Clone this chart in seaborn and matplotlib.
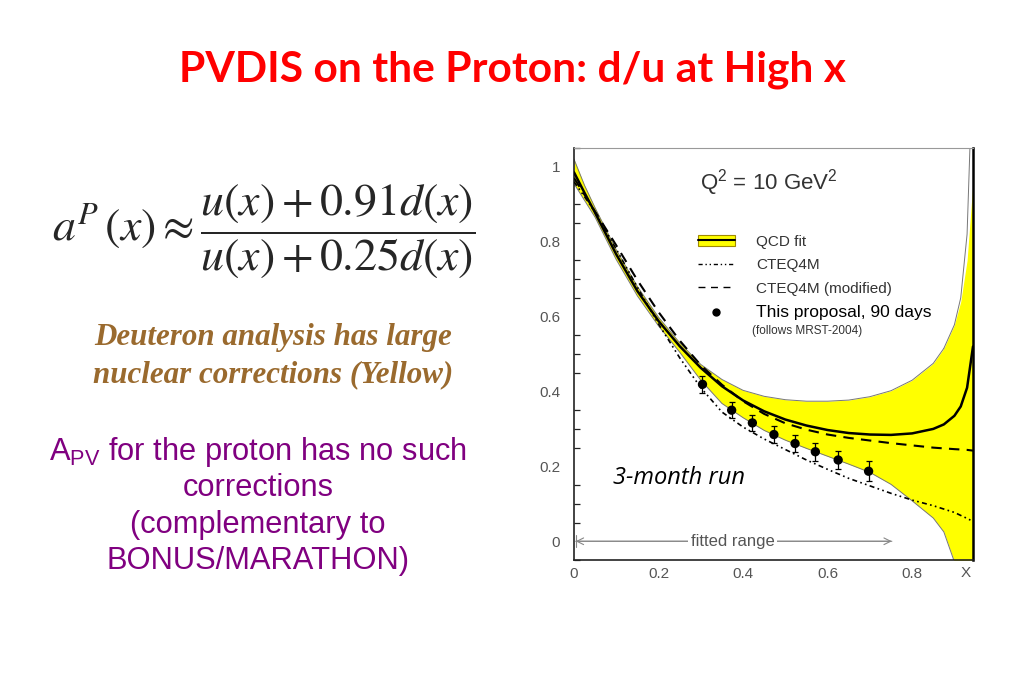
import matplotlib
from matplotlib import pyplot as plt
from matplotlib.patches import Patch, ArrowStyle
from matplotlib.lines import Line2D
from matplotlib.legend_handler import HandlerTuple
from matplotlib.ticker import MultipleLocator, FixedLocator
import seaborn as sns

matplotlib.use('Agg')

# curves (x = Bjorken x)
x_grid = [0.0, 0.025, 0.05, 0.1, 0.15, 0.2, 0.25, 0.3, 0.35, 0.4, 0.45, 0.5,
          0.55, 0.6, 0.65, 0.7, 0.75, 0.8, 0.85, 0.875, 0.9, 0.915, 0.93, 0.944]
qcd_fit = [0.985, 0.93, 0.877, 0.766, 0.668, 0.588, 0.521, 0.463, 0.414, 0.376,
           0.347, 0.325, 0.309, 0.297, 0.289, 0.285, 0.284, 0.288, 0.3, 0.312,
           0.335, 0.36, 0.41, 0.52]
qcd_hi = [1.02, 0.95, 0.89, 0.778, 0.68, 0.598, 0.53, 0.472, 0.432, 0.403,
          0.387, 0.378, 0.374, 0.374, 0.377, 0.386, 0.402, 0.43, 0.475, 0.515,
          0.578, 0.64, 0.75, 0.96]
qcd_lo = [0.955, 0.91, 0.865, 0.752, 0.655, 0.575, 0.505, 0.43, 0.368, 0.33,
          0.296, 0.27, 0.248, 0.227, 0.206, 0.184, 0.152, 0.108, 0.062, 0.025,
          -0.055, -0.12, -0.2, -0.3]
cteq4m = [0.96, 0.92, 0.878, 0.78, 0.678, 0.58, 0.49, 0.41, 0.345, 0.305,
          0.273, 0.245, 0.217, 0.192, 0.168, 0.148, 0.128, 0.11, 0.095, 0.086,
          0.077, 0.069, 0.061, 0.053]
cteq4m_mod = [0.97, 0.925, 0.88, 0.79, 0.697, 0.612, 0.536, 0.47, 0.418, 0.374,
              0.34, 0.315, 0.298, 0.285, 0.276, 0.269, 0.262, 0.256, 0.25, 0.248,
              0.246, 0.245, 0.244, 0.242]
# thin outline of the band where it leaves the frame at the top
edge_x = [0.875, 0.9, 0.915, 0.93, 0.937]
edge_hi = [0.515, 0.578, 0.65, 0.82, 1.06]
n_outline = 20  # upper outline follows qcd_hi up to x = 0.875

# projected data, 90 days
proj_x = [0.304, 0.373, 0.422, 0.473, 0.523, 0.571, 0.625, 0.697]
proj_y = [0.419, 0.35, 0.316, 0.285, 0.261, 0.239, 0.217, 0.187]
proj_err = [0.022, 0.022, 0.022, 0.022, 0.022, 0.024, 0.025, 0.027]

x_ticks = [0, 0.2, 0.4, 0.6, 0.8]
x_tick_labels = ['0', '0.2', '0.4', '0.6', '0.8']
y_ticks = [0, 0.2, 0.4, 0.6, 0.8, 1.0]
y_tick_labels = ['0', '0.2', '0.4', '0.6', '0.8', '1']

legend_labels = ['QCD fit', 'CTEQ4M', 'CTEQ4M (modified)', 'This proposal, 90 days']

purple_lines = [r'A$_{\mathrm{PV}}$ for the proton has no such', 'corrections',
                '(complementary to', 'BONUS/MARATHON)']
brown_lines = ['Deuteron analysis has large', 'nuclear corrections (Yellow)']

sns.set_theme(style='white')
plt.rcParams['font.family'] = ['Liberation Sans', 'DejaVu Sans']
plt.rcParams['mathtext.rm'] = 'Liberation Sans'
plt.rcParams['mathtext.it'] = 'Liberation Sans:italic'

W, H = 1024, 698
fig = plt.figure(figsize=(W / 100, H / 100), dpi=100)
fig.patch.set_facecolor('white')

# slide title
fig.text(512 / W, 1 - 70 / H, 'PVDIS on the Proton: d/u at High x',
         family='Lato', weight='bold', color='#ff0000', fontsize=30.6,
         ha='center', va='center')

# formula
fig.text(264 / W, 1 - 231 / H,
         r'$a^P\,(x) \approx \dfrac{u(x)+0.91d(x)}{u(x)+0.25d(x)}$',
         math_fontfamily='stix', fontsize=33, ha='center', va='center')

for i, line in enumerate(brown_lines):
    fig.text(273 / W, 1 - (337 + 38 * i) / H, line, family='Liberation Serif',
             style='italic', weight='bold', color='#9a6a2e', fontsize=22.3,
             ha='center', va='center')

for i, line in enumerate(purple_lines):
    fig.text(258 / W, 1 - (452 + 36.5 * i) / H, line, math_fontfamily='custom',
             color='#800080', fontsize=22.2, ha='center', va='center')

# the physics plot
ax = fig.add_axes([574 / W, 1 - 560 / H, (973 - 574) / W, (560 - 148) / H])
ax.set_xlim(0, 0.944)
ax.set_ylim(-0.05, 1.05)

ax.fill_between(x_grid, qcd_lo, qcd_hi, color='#ffff00', lw=0, zorder=1)
sns.lineplot(x=x_grid[:n_outline], y=qcd_hi[:n_outline], ax=ax,
             color='#777777', lw=0.7, zorder=2)
sns.lineplot(x=edge_x, y=edge_hi, ax=ax, color='#777777', lw=0.7, zorder=2)
sns.lineplot(x=x_grid, y=qcd_lo, ax=ax, color='#777777', lw=0.7, zorder=2)
sns.lineplot(x=x_grid, y=qcd_fit, ax=ax, color='black', lw=1.8, zorder=4)
sns.lineplot(x=x_grid, y=cteq4m, ax=ax, color='black', lw=1.2,
             linestyle=(0, (3, 2, 1, 2, 1, 2)), zorder=3)
sns.lineplot(x=x_grid, y=cteq4m_mod, ax=ax, color='black', lw=1.5,
             linestyle=(0, (5, 3.5)), zorder=3)

ax.errorbar(proj_x, proj_y, yerr=proj_err, fmt='none', ecolor='black',
            elinewidth=0.9, capsize=2, capthick=0.9, zorder=5)
sns.scatterplot(x=proj_x, y=proj_y, ax=ax, color='black', s=45,
                edgecolor='none', zorder=6)

# fitted range arrow
ax.annotate('', xy=(0.004, 0), xytext=(0.752, 0),
            arrowprops=dict(arrowstyle='<->', color='#888888', lw=0.8,
                            shrinkA=0, shrinkB=0))
ax.annotate('', xy=(0.004, 0), xytext=(0.752, 0),
            arrowprops=dict(arrowstyle=ArrowStyle('|-|', widthA=0, widthB=0.35),
                            color='#888888', lw=0.8, shrinkA=0, shrinkB=0))
ax.text(0.375, 0, 'fitted range', color='#555555', fontsize=12,
        ha='center', va='center',
        bbox=dict(facecolor='white', edgecolor='none', pad=2))

ax.text(0.297, 0.958, r'Q$^2$ = 10 GeV$^2$', math_fontfamily='custom',
        fontsize=16, color='#333333', ha='left', va='center')
ax.text(0.093, 0.168, '3-month run', family='Open Sans', style='italic',
        fontsize=17, color='black', ha='left', va='center')

qcd_handle = (Patch(facecolor='#ffff00', edgecolor='#a08a00', lw=0.8),
              Line2D([], [], color='black', lw=1.5))
handles = [qcd_handle,
           Line2D([], [], color='black', lw=1, linestyle=(0, (3, 2, 1, 2, 1, 2))),
           Line2D([], [], color='black', lw=1, linestyle=(0, (5, 4))),
           Line2D([], [], color='black', marker='o', markersize=5, lw=0)]
leg = ax.legend(handles, legend_labels, loc='upper left',
                bbox_to_anchor=(0.292, 0.808), frameon=False, fontsize=11,
                handlelength=2.4, handletextpad=1.4, labelspacing=0.62,
                borderpad=0,
                handler_map={tuple: HandlerTuple(ndivide=1, pad=0)})
for t in leg.get_texts():
    t.set_color('#333333')
leg.get_texts()[3].set_fontsize(12.5)
leg.get_texts()[3].set_color('black')
ax.text(0.422, 0.562, '(follows MRST-2004)', fontsize=8.5, color='#333333',
        ha='left', va='center')

# axes cosmetics
ax.xaxis.set_major_locator(FixedLocator(x_ticks))
ax.set_xticklabels(x_tick_labels)
ax.yaxis.set_major_locator(FixedLocator(y_ticks))
ax.set_yticklabels(y_tick_labels)
ax.yaxis.set_minor_locator(MultipleLocator(0.05))
ax.tick_params(axis='both', which='major', direction='in', length=7,
               width=1.1, color='#222222', labelsize=11, labelcolor='#555555')
ax.tick_params(axis='y', which='minor', direction='in', length=4, width=0.9,
               color='#222222', left=True)
ax.tick_params(axis='x', pad=5)
ax.tick_params(axis='y', pad=10)
ax.text(0.926, -0.085, 'X', fontsize=11, color='#555555', ha='center', va='center')

for side in ['left', 'bottom']:
    ax.spines[side].set_color('#222222')
    ax.spines[side].set_linewidth(1.2)
ax.spines['right'].set_color('black')
ax.spines['right'].set_linewidth(1.8)
ax.spines['top'].set_color('#999999')
ax.spines['top'].set_linewidth(0.8)
ax.set_xlabel('')
ax.set_ylabel('')
ax.grid(False)

fig.savefig('out.png', dpi=100)
